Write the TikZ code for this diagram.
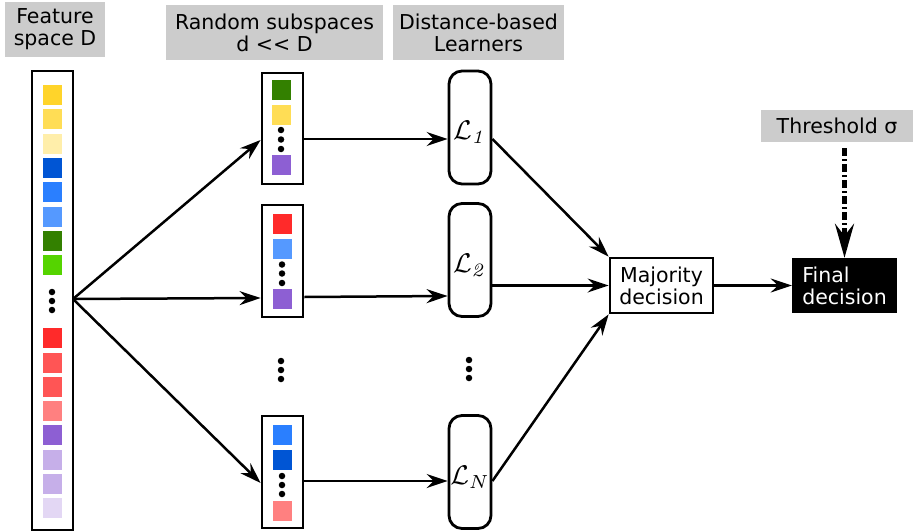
\documentclass[tikz,border=0pt]{standalone}
\usepackage[no-math]{fontspec}
\setmainfont{DejaVu Sans}
\usetikzlibrary{arrows.meta}
\definecolor{gbox}{HTML}{CCCCCC}
\definecolor{c1}{HTML}{FFD42A}
\definecolor{c2}{HTML}{FFDD55}
\definecolor{c3}{HTML}{FFEEAA}
\definecolor{c4}{HTML}{0055D4}
\definecolor{c5}{HTML}{2A7FFF}
\definecolor{c6}{HTML}{5599FF}
\definecolor{c7}{HTML}{338000}
\definecolor{c8}{HTML}{55D400}
\definecolor{c9}{HTML}{FF2A2A}
\definecolor{c10}{HTML}{FF5555}
\definecolor{c11}{HTML}{FF5555}
\definecolor{c12}{HTML}{FF8080}
\definecolor{c13}{HTML}{8D5FD3}
\definecolor{c14}{HTML}{C6AFE9}
\definecolor{c15}{HTML}{C6AFE9}
\definecolor{c16}{HTML}{E3D7F4}
\newcommand{\learnlabel}[1]{\scalebox{2.7}{$\mathcal{L}_{#1}$}}
\begin{document}
\begin{tikzpicture}[x=1pt,y=-1pt,
  font=\fontsize{20.5}{22}\selectfont,
  graylabel/.style={fill=gbox, draw=none, inner sep=0pt, align=center},
  colbox/.style={draw=black, line width=2.8pt, fill=white, inner sep=0pt, minimum width=41pt},
  sq/.style={draw=none, inner sep=0pt, minimum width=19pt, minimum height=20pt},
  dotn/.style={circle, fill=black, inner sep=0pt, minimum size=6.5pt},
  learner/.style={draw=black, line width=2.8pt, rounded corners=13pt, inner sep=0pt, minimum width=42pt, minimum height=113pt, font=\normalsize},
  majbox/.style={draw=black, line width=2.8pt, fill=white, inner sep=0pt, minimum width=103pt, minimum height=55pt, align=center},
  finbox/.style={fill=black, text=white, inner sep=0pt, minimum width=105pt, minimum height=55pt, align=left},
  arr/.style={line width=2.5pt, -{Stealth[length=21pt, width=14pt, inset=7pt]}},
  thrarr/.style={line width=4.5pt, dash pattern=on 8pt off 3pt on 2pt off 3pt, -{Stealth[length=34pt, width=19pt, inset=12pt]}}
]
\useasboundingbox (0,0) rectangle (920,532);

% header labels
\node[graylabel, minimum width=100pt, minimum height=55pt] (hf) at (55,29.5) {Feature\\space D};
\node[graylabel, minimum width=217pt, minimum height=55pt] (hr) at (274.5,32.5) {Random subspaces\\d {<}{<} D};
\node[graylabel, minimum width=171pt, minimum height=55pt] (hd) at (478.5,32.5) {Distance-based\\Learners};
\node[graylabel, minimum width=152pt, minimum height=32pt] (thr) at (837,126) {Threshold σ};

% feature column
\node[colbox, minimum height=459pt] (fc) at (52.5,300.5) {};
\foreach \i/\y in {1/95,2/119,3/144,4/168,5/192,6/217,7/241,8/265,9/338,10/363,11/387,12/411,13/435,14/460,15/484,16/508}{
  \node[sq, fill=c\i] (f\i) at (52.5,\y) {};
}
\node[dotn] (fd1) at (52,292) {};
\node[dotn] (fd2) at (52,301) {};
\node[dotn] (fd3) at (52,310) {};

% subspace boxes
\node[colbox, minimum height=111pt] (sb1) at (282.5,128.5) {};
\node[sq, fill=c7] (s11) at (281.5,90) {};
\node[sq, fill=c2] (s12) at (281.5,115) {};
\node[dotn] (s1d1) at (281,130) {};
\node[dotn] (s1d2) at (281,139.5) {};
\node[dotn] (s1d3) at (281,149) {};
\node[sq, fill=c13] (s13) at (281.5,165) {};

\node[colbox, minimum height=112pt] (sb2) at (282.5,261) {};
\node[sq, fill=c9] (s21) at (282.5,224) {};
\node[sq, fill=c6] (s22) at (282.5,249) {};
\node[dotn] (s2d1) at (282,264.5) {};
\node[dotn] (s2d2) at (282,273.5) {};
\node[dotn] (s2d3) at (282,283) {};
\node[sq, fill=c13] (s23) at (282.5,299) {};

\node[dotn] (md1) at (281,361) {};
\node[dotn] (md2) at (281,370) {};
\node[dotn] (md3) at (281,379) {};

\node[colbox, minimum height=112pt] (sbN) at (282.5,472) {};
\node[sq, fill=c5] (sN1) at (282.5,435) {};
\node[sq, fill=c4] (sN2) at (282.5,460) {};
\node[dotn] (sNd1) at (282,476) {};
\node[dotn] (sNd2) at (282,485) {};
\node[dotn] (sNd3) at (282,494) {};
\node[sq, fill=c12] (sN3) at (282.5,511) {};

% learners
\node[learner] (l1) at (470,127.5) {};
\node[learner] (l2) at (470,260) {};
\node[dotn] (ld1) at (469,360) {};
\node[dotn] (ld2) at (469,369) {};
\node[dotn] (ld3) at (469,378) {};
\node[learner] (lN) at (470,472) {};
\node[font=\normalsize, inner sep=0pt] (t1) at ([yshift=-5pt]l1.center) {\learnlabel{\mathit{1}}};
\node[font=\normalsize, inner sep=0pt] (t2) at ([yshift=-5pt]l2.center) {\learnlabel{\mathit{2}}};
\node[font=\normalsize, inner sep=0pt] (tN) at ([yshift=-5pt]lN.center) {\learnlabel{N}};

% decisions
\node[majbox] (maj) at (661.5,285.5) {Majority\\decision};
\node[finbox] (fin) at (844.5,285.5) {Final\\decision};

% connectors
\coordinate (fan) at (73,299);
\draw[arr] (fan) -- ([yshift=-11.5pt]sb1.west);
\draw[arr] (fan) -- ([yshift=-37pt]sb2.west);
\draw[arr] (fan) -- ([yshift=-11pt]sbN.west);
\draw[arr] ([yshift=-10.5pt]sb1.east) -- ([yshift=-11.5pt]l1.west);
\draw[arr] ([yshift=-36pt]sb2.east) -- ([yshift=-36pt]l2.west);
\draw[arr] ([yshift=-9pt]sbN.east) -- ([yshift=-9pt]lN.west);
\draw[arr] ([yshift=-11.5pt]l1.east) -- (maj.north west);
\draw[arr] ([yshift=-25.5pt]l2.east) -- (maj.west);
\draw[arr] ([yshift=-9pt]lN.east) -- (maj.south west);
\draw[arr] (maj.east) -- (fin.west);
\coordinate (thrfoot) at ([yshift=-6pt]thr.south -| fin.north);
\draw[thrarr] (thrfoot) -- (fin.north);
\end{tikzpicture}
\end{document}
